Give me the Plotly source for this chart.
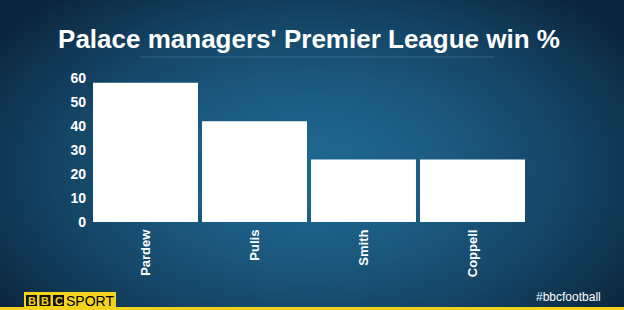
import base64
import struct
import zlib

import numpy as np
import plotly.graph_objects as go

# Win percentage in the Premier League for each Crystal Palace manager
managers = ["Pardew", "Pulis", "Smith", "Coppell"]
win_pct = [58, 42, 26, 26]
y_ticks = [0, 10, 20, 30, 40, 50, 60]

W, H = 624, 310


def png_data_uri(rgb):
    """Encode an HxWx3 uint8 array as a PNG data URI."""
    h, w, _ = rgb.shape
    raw = b"".join(b"\x00" + rgb[r].tobytes() for r in range(h))

    def chunk(tag, data):
        c = struct.pack(">I", len(data)) + tag + data
        return c + struct.pack(">I", zlib.crc32(tag + data) & 0xFFFFFFFF)

    png = b"\x89PNG\r\n\x1a\n"
    png += chunk(b"IHDR", struct.pack(">IIBBBBB", w, h, 8, 2, 0, 0, 0))
    png += chunk(b"IDAT", zlib.compress(raw, 9))
    png += chunk(b"IEND", b"")
    return "data:image/png;base64," + base64.b64encode(png).decode()


# Dark-blue backdrop: brighter in the middle, fading to navy at the edges
yy, xx = np.mgrid[0:H, 0:W].astype(float)
dx = (xx - W * 0.5) / (W * 0.62)
dy = (yy - H * 0.55) / (H * 0.75)
d = np.clip(np.sqrt(dx ** 2 + dy ** 2), 0, 1)
inner = np.array([32, 104, 146], float)
outer = np.array([11, 38, 62], float)
t = d ** 1.5
img = inner[None, None, :] * (1 - t[..., None]) + outer[None, None, :] * t[..., None]
bg_uri = png_data_uri(np.clip(img, 0, 255).astype(np.uint8))

fig = go.Figure(
    go.Bar(
        x=managers,
        y=win_pct,
        marker=dict(color="white", line=dict(width=0)),
        hoverinfo="x+y",
    )
)

font_family = "Liberation Sans, Arial, sans-serif"

fig.update_layout(
    width=W,
    height=H,
    margin=dict(l=91, r=97, t=78, b=88),
    paper_bgcolor="#0f3552",
    plot_bgcolor="rgba(0,0,0,0)",
    bargap=0.037,
    showlegend=False,
    font=dict(family=font_family, color="white"),
    title=dict(
        text="<b>Palace managers' Premier League win %</b>",
        x=0.5,
        xanchor="center",
        xref="paper",
        y=1 - 39 / H,
        yanchor="middle",
        yref="container",
        font=dict(size=26, color="white", family=font_family),
    ),
    xaxis=dict(
        tickangle=-90,
        tickfont=dict(size=13, color="white", family=font_family),
        showgrid=False,
        showline=False,
        zeroline=False,
        ticks="",
        ticklabelstandoff=4,
    ),
    yaxis=dict(
        range=[0, 60],
        tickvals=y_ticks,
        tickfont=dict(size=14, color="white", family=font_family),
        showgrid=False,
        showline=False,
        zeroline=False,
        ticks="",
        ticklabelstandoff=4,
    ),
    images=[
        dict(
            source=bg_uri,
            xref="paper",
            yref="paper",
            x=-91 / (W - 91 - 97),
            y=1 + 78 / (H - 78 - 88),
            sizex=W / (W - 91 - 97),
            sizey=H / (H - 78 - 88),
            xanchor="left",
            yanchor="top",
            sizing="stretch",
            layer="below",
        )
    ],
)

# Category labels and y tick labels in bold
fig.update_xaxes(tickvals=managers, ticktext=[f"<b>{m}</b>" for m in managers])
fig.update_yaxes(ticktext=[f"<b>{v}</b>" for v in y_ticks])

shapes = [
    # faint rule under the title
    dict(type="line", xref="paper", yref="paper",
         x0=(140 - 91) / 436, x1=(495 - 91) / 436,
         y0=1 + (78 - 57) / 144, y1=1 + (78 - 57) / 144,
         line=dict(color="rgba(140,190,220,0.28)", width=1)),
    # yellow strip along the bottom edge
    dict(type="rect", xref="paper", yref="paper",
         x0=-91 / 436, x1=(W - 91) / 436,
         y0=-(H - 222) / 144, y1=-(307 - 222) / 144,
         fillcolor="#f4d31c", line=dict(width=0)),
    # BBC Sport logo panel
    dict(type="rect", xref="paper", yref="paper",
         x0=(24 - 91) / 436, x1=(116 - 91) / 436,
         y0=-(H - 222) / 144, y1=-(292 - 222) / 144,
         fillcolor="#f4d31c", line=dict(width=0)),
]
annotations = [
    dict(text="#bbcfootball", xref="paper", yref="paper",
         x=(603 - 91) / 436, y=-(297 - 222) / 144,
         xanchor="right", yanchor="middle", showarrow=False,
         font=dict(size=12, color="white", family=font_family)),
    dict(text="SPORT", xref="paper", yref="paper",
         x=(64 - 91) / 436, y=-(300.5 - 222) / 144,
         xanchor="left", yanchor="middle", showarrow=False,
         font=dict(size=14, color="black", family=font_family)),
]
for i, letter in enumerate("BBC"):
    left = 26 + i * 13.5
    shapes.append(dict(type="rect", xref="paper", yref="paper",
                       x0=(left - 91) / 436, x1=(left + 11 - 91) / 436,
                       y0=-(306 - 222) / 144, y1=-(295 - 222) / 144,
                       fillcolor="#111111", line=dict(width=0)))
    annotations.append(dict(text=f"<b>{letter}</b>", xref="paper", yref="paper",
                            x=(left + 5.5 - 91) / 436, y=-(300.5 - 222) / 144,
                            xanchor="center", yanchor="middle", showarrow=False,
                            font=dict(size=11, color="#f4d31c", family=font_family)))

fig.update_layout(shapes=shapes, annotations=annotations)

fig.write_html("out.html")
